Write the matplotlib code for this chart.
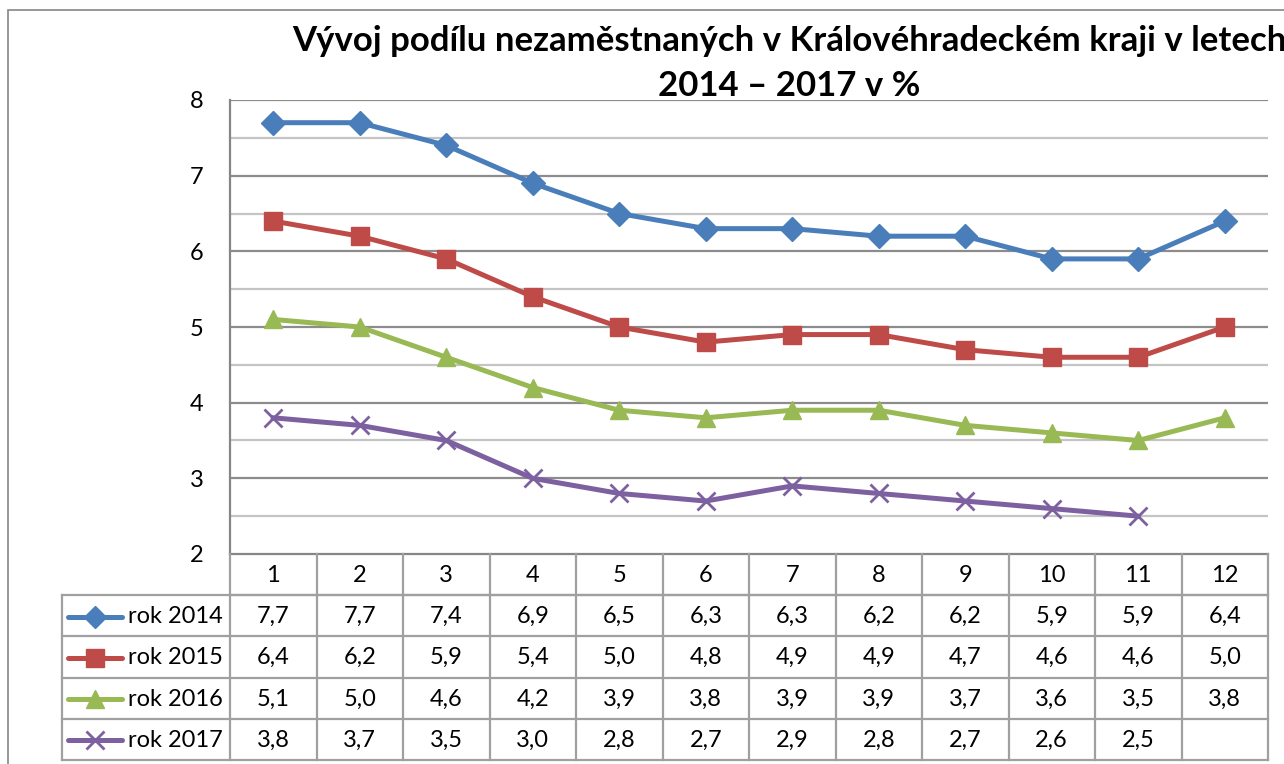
import numpy as np
import matplotlib
matplotlib.use("Agg")
import matplotlib.pyplot as plt
from matplotlib.lines import Line2D
from matplotlib.patches import Rectangle

plt.rcParams['font.family'] = ['Lato', 'DejaVu Sans']

# data
months = list(range(1, 13))
series_names = ['rok 2014', 'rok 2015', 'rok 2016', 'rok 2017']
rok_2014 = [7.7, 7.7, 7.4, 6.9, 6.5, 6.3, 6.3, 6.2, 6.2, 5.9, 5.9, 6.4]
rok_2015 = [6.4, 6.2, 5.9, 5.4, 5.0, 4.8, 4.9, 4.9, 4.7, 4.6, 4.6, 5.0]
rok_2016 = [5.1, 5.0, 4.6, 4.2, 3.9, 3.8, 3.9, 3.9, 3.7, 3.6, 3.5, 3.8]
rok_2017 = [3.8, 3.7, 3.5, 3.0, 2.8, 2.7, 2.9, 2.8, 2.7, 2.6, 2.5, None]
values = [rok_2014, rok_2015, rok_2016, rok_2017]

colors = ['#4A7EBB', '#BE4B48', '#98B954', '#7D60A0']
markers = ['D', 's', '^', 'x']
msizes = [12, 13, 13, 13]

W, H = 1284, 764
fig = plt.figure(figsize=(W / 100, H / 100), dpi=100)

def fx(px):
    return px / W

def fy(py):
    return 1 - py / H

# outer chart frame
fig.patches.append(Rectangle((fx(8), fy(800)), fx(1400), 790 / H, transform=fig.transFigure,
                             fill=False, edgecolor='#868686', linewidth=1.2))

# plot area
pl, pr, pt, pb = 230, 1268, 100, 554
ax = fig.add_axes([fx(pl), fy(pb), fx(pr - pl), (pb - pt) / H])
ax.set_xlim(0.5, 12.5)
ax.set_ylim(2, 8)
for y in np.arange(2.5, 8.01, 0.5):
    if y % 1 == 0:
        ax.axhline(y, color='#8C8C8C', linewidth=1.6, zorder=1)
    else:
        ax.axhline(y, color='#C4C4C4', linewidth=1.6, zorder=1)
for s in ['top', 'right']:
    ax.spines[s].set_visible(False)
ax.spines['left'].set_color('#868686')
ax.spines['left'].set_linewidth(1.6)
ax.spines['bottom'].set_color('#868686')
ax.spines['bottom'].set_linewidth(1.6)
ax.set_xticks([])
ax.set_yticks(range(2, 9))
ax.tick_params(axis='y', length=0, pad=19, labelsize=17)

for vals, c, m, ms in zip(values, colors, markers, msizes):
    x = [mo for mo, v in zip(months, vals) if v is not None]
    y = [v for v in vals if v is not None]
    ax.plot(x, y, color=c, linewidth=3.6, marker=m, markersize=ms,
            markeredgewidth=2 if m == 'x' else 1, markeredgecolor=c,
            markerfacecolor=c, zorder=3, clip_on=False)

# title
fig.text(fx(789), fy(41), 'Vývoj podílu nezaměstnaných v Královéhradeckém kraji v letech',
         ha='center', va='center', fontsize=25, fontweight='bold')
fig.text(fx(789), fy(86), '2014 – 2017 v %', ha='center', va='center',
         fontsize=25, fontweight='bold')

# data table
tl, tb = 62, 760
colw = (pr - pl) / 12
leg_left = 0.5 - (pl - tl) / colw
tax = fig.add_axes([fx(tl), fy(tb), fx(pr - tl), (tb - pb) / H])
tax.set_xlim(leg_left, 12.5)
tax.set_ylim(5, 0)
tax.axis('off')

gc = '#A0A0A0'
lw = 1.6
# header row (only data columns)
tax.plot([0.5, 12.5], [1, 1], color=gc, lw=lw)
for k in range(13):
    x = 0.5 + k
    tax.plot([x, x], [0, 5], color=gc, lw=lw, clip_on=False)
for r in range(1, 6):
    tax.plot([leg_left, 12.5], [r, r], color=gc, lw=lw, clip_on=False)
tax.plot([leg_left, leg_left], [1, 5], color=gc, lw=lw, clip_on=False)

for mo in months:
    tax.text(mo, 0.52, str(mo), ha='center', va='center', fontsize=17)

for i, (name, vals, c, m, ms) in enumerate(zip(series_names, values, colors, markers, msizes)):
    row = i + 1.52
    for mo, v in zip(months, vals):
        if v is not None:
            tax.text(mo, row, f'{v:.1f}'.replace('.', ','), ha='center', va='center', fontsize=17)
    x0 = leg_left + 6 / colw
    x1 = leg_left + 60 / colw
    tax.add_line(Line2D([x0, x1], [row, row], color=c, linewidth=3.6, solid_capstyle='round'))
    tax.add_line(Line2D([(x0 + x1) / 2], [row], color=c, marker=m, markersize=ms * 0.95,
                        markeredgewidth=2 if m == 'x' else 1, markeredgecolor=c,
                        markerfacecolor=c, linestyle='none'))
    tax.text(leg_left + 66 / colw, row, name, ha='left', va='center', fontsize=17)

fig.savefig('out.png', dpi=100)
